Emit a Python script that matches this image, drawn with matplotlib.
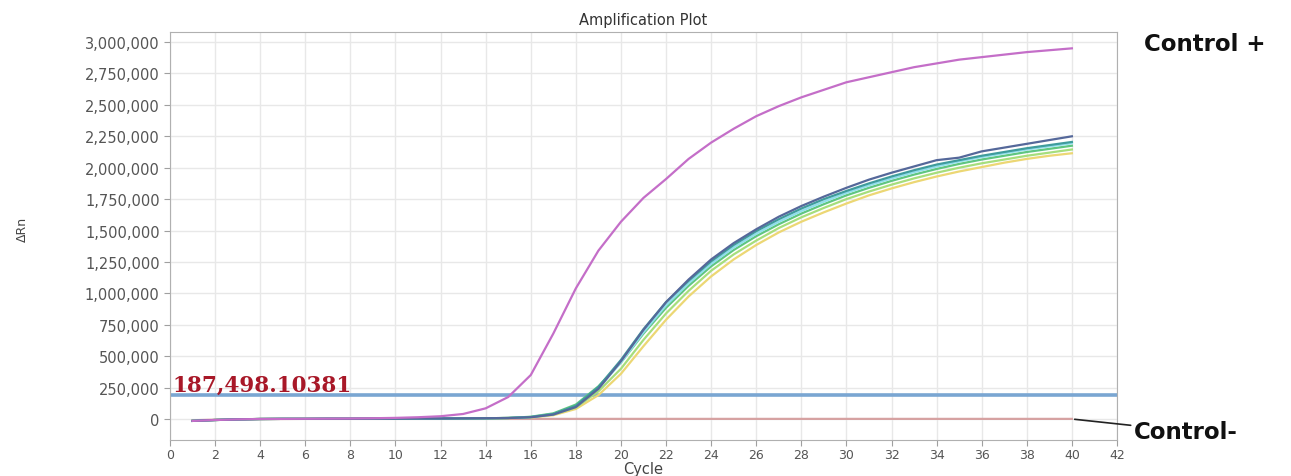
import numpy as np
import matplotlib
matplotlib.use('Agg')
import matplotlib.pyplot as plt
from matplotlib.ticker import FuncFormatter, MultipleLocator

# Data (values in thousands of delta Rn)
cycles = list(range(1, 41))

base = [-15, -8, -3, 0, 1, 1, 2, 2, 3, 3, 4, 4, 5, 6, 8]

control_pos = [-15, -8, -3, 0, 1, 2, 3, 4, 6, 9,
               14, 22, 40, 85, 175, 350, 680, 1040, 1340, 1570,
               1760, 1910, 2070, 2200, 2310, 2410, 2490, 2560, 2620, 2680,
               2720, 2760, 2800, 2830, 2860, 2880, 2900, 2920, 2935, 2950]

sample_blue = base + [14, 35, 95, 240, 460, 710, 930, 1110, 1270, 1400, 1510, 1610, 1695,
                      1770, 1840, 1905, 1960, 2010, 2060, 2080, 2130, 2160, 2190, 2220, 2250]
sample_teal = base + [16, 40, 105, 255, 470, 715, 930, 1100, 1255, 1385, 1495, 1590, 1675,
                      1750, 1815, 1875, 1930, 1980, 2025, 2060, 2095, 2125, 2155, 2180, 2205]
sample_cyan = base + [15, 38, 100, 245, 450, 690, 905, 1080, 1235, 1365, 1475, 1570, 1655,
                      1730, 1800, 1860, 1915, 1965, 2010, 2050, 2085, 2115, 2145, 2170, 2195]
sample_green = base + [18, 45, 115, 260, 450, 680, 885, 1060, 1215, 1345, 1455, 1550, 1635,
                       1710, 1780, 1840, 1895, 1945, 1990, 2030, 2065, 2095, 2125, 2150, 2175]
sample_lgreen = base + [14, 36, 92, 220, 400, 630, 840, 1020, 1180, 1310, 1420, 1520, 1605,
                        1680, 1750, 1810, 1865, 1915, 1960, 2000, 2035, 2065, 2095, 2120, 2145]
sample_yellow = base + [12, 30, 80, 190, 360, 580, 790, 975, 1135, 1270, 1385, 1485, 1570,
                        1645, 1715, 1780, 1835, 1885, 1930, 1970, 2005, 2040, 2070, 2095, 2115]

control_neg = [-10, -5, -2, 0, 0, 1, 1, 1, 1, 1,
               1, 1, 1, 1, 1, 1, 1, 1, 1, 1,
               1, 1, 1, 1, 1, 1, 1, 1, 1, 1,
               1, 1, 1, 1, 1, 1, 1, 1, 1, 1]

threshold = 187498.10381

samples = [
    (sample_yellow, '#ecd774'),
    (sample_lgreen, '#a6de7c'),
    (sample_green, '#5fc680'),
    (sample_cyan, '#8fdeec'),
    (sample_teal, '#3f9c9c'),
    (sample_blue, '#55689a'),
]

fig = plt.figure(figsize=(12.91, 4.77), dpi=100)
ax = fig.add_axes([0.1317, 0.0755, 0.7335, 0.8553])

ax.axhline(threshold, color='#7aa6d2', lw=2.6, zorder=2)
ax.plot(cycles, np.array(control_neg) * 1000, color='#d6a2a2', lw=1.6, zorder=3)
for vals, col in samples:
    ax.plot(cycles, np.array(vals) * 1000, color=col, lw=1.6, zorder=4)
ax.plot(cycles, np.array(control_pos) * 1000, color='#c46ec8', lw=1.6, zorder=5)

ax.set_xlim(0, 42)
ax.set_ylim(-167000, 3080000)
ax.xaxis.set_major_locator(MultipleLocator(2))
ax.yaxis.set_major_locator(MultipleLocator(250000))
ax.yaxis.set_major_formatter(FuncFormatter(lambda v, p: f'{int(round(v)):,}'))
ax.grid(True, color='#e8e8e8', lw=1)
ax.set_axisbelow(True)
for s in ax.spines.values():
    s.set_color('#b0b0b0')
ax.tick_params(colors='#a0a0a0', labelcolor='#555555', length=4, labelsize=10.5)
ax.tick_params(axis='x', labelsize=9, pad=2)

ax.set_title('Amplification Plot', fontsize=10.5, color='#333333', pad=6)
ax.set_xlabel('Cycle', fontsize=10.5, color='#444444', labelpad=0)
fig.text(0.012, 0.52, 'ΔRn', rotation=90, fontsize=9, color='#444444', va='center')

# threshold value label
ax.text(0.1, threshold, f'{threshold:,.5f}', family='DejaVu Serif', fontweight='bold',
        fontsize=15.5, color='#a81828', va='bottom', ha='left', zorder=6)

# control labels
fig.text(0.886, 0.906, 'Control +', fontsize=16.5, fontweight='bold', color='#111111', va='center')
ax.annotate('Control-', xy=(40, 0), xycoords='data',
            xytext=(0.878, 0.094), textcoords='figure fraction',
            fontsize=16.5, fontweight='bold', color='#111111', va='center',
            arrowprops=dict(arrowstyle='-', color='#222222', lw=1.2, shrinkA=0, shrinkB=2),
            annotation_clip=False)

plt.savefig('out.png', dpi=100)
